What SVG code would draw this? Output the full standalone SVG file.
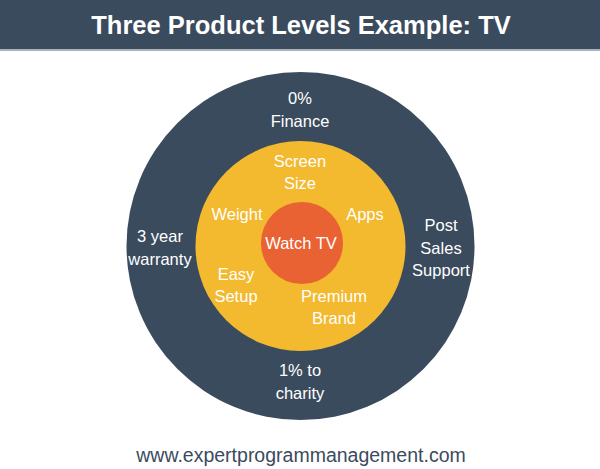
<svg xmlns="http://www.w3.org/2000/svg" width="600" height="469" viewBox="0 0 600 469">
<style>
.t{font-family:"Liberation Sans",Arial,sans-serif;font-size:16.5px;fill:#ffffff;text-anchor:middle}
</style>
<rect x="0" y="0" width="600" height="469" fill="#ffffff"/>
<g id="title">
<rect x="0" y="0" width="600" height="50" fill="#3a4b5e"/>
<rect x="0" y="49" width="600" height="2" fill="#a9b3bd"/>
<text x="301" y="34" style="font-family:'Liberation Sans',sans-serif;font-size:25.5px;font-weight:bold;fill:#fff;text-anchor:middle">Three Product Levels Example: TV</text>
</g>
<g id="outer">
<circle cx="300.5" cy="246" r="174" fill="#3a4b5e"/>
<text class="t" x="300" y="104">0%</text>
<text class="t" x="300" y="127">Finance</text>
<text class="t" x="160" y="242">3 year</text>
<text class="t" x="160" y="265">warranty</text>
<text class="t" x="441" y="231">Post</text>
<text class="t" x="441" y="254">Sales</text>
<text class="t" x="441" y="276">Support</text>
<text class="t" x="300" y="376">1% to</text>
<text class="t" x="300" y="399">charity</text>
</g>
<g id="middle">
<circle cx="300.5" cy="246" r="105" fill="#f3b92f"/>
<text class="t" x="300" y="167">Screen</text>
<text class="t" x="300" y="189">Size</text>
<text class="t" x="237" y="220">Weight</text>
<text class="t" x="365" y="220">Apps</text>
<text class="t" x="236" y="280">Easy</text>
<text class="t" x="236" y="302">Setup</text>
<text class="t" x="334" y="302">Premium</text>
<text class="t" x="334" y="324">Brand</text>
</g>
<g id="core">
<circle cx="302" cy="243" r="41" fill="#e96233"/>
<text class="t" x="301" y="249">Watch TV</text>
</g>
<g id="footer">
<text x="301" y="462" style="font-family:'Liberation Sans',sans-serif;font-size:19.5px;fill:#3a4b5e;text-anchor:middle">www.expertprogrammanagement.com</text>
</g>
</svg>
